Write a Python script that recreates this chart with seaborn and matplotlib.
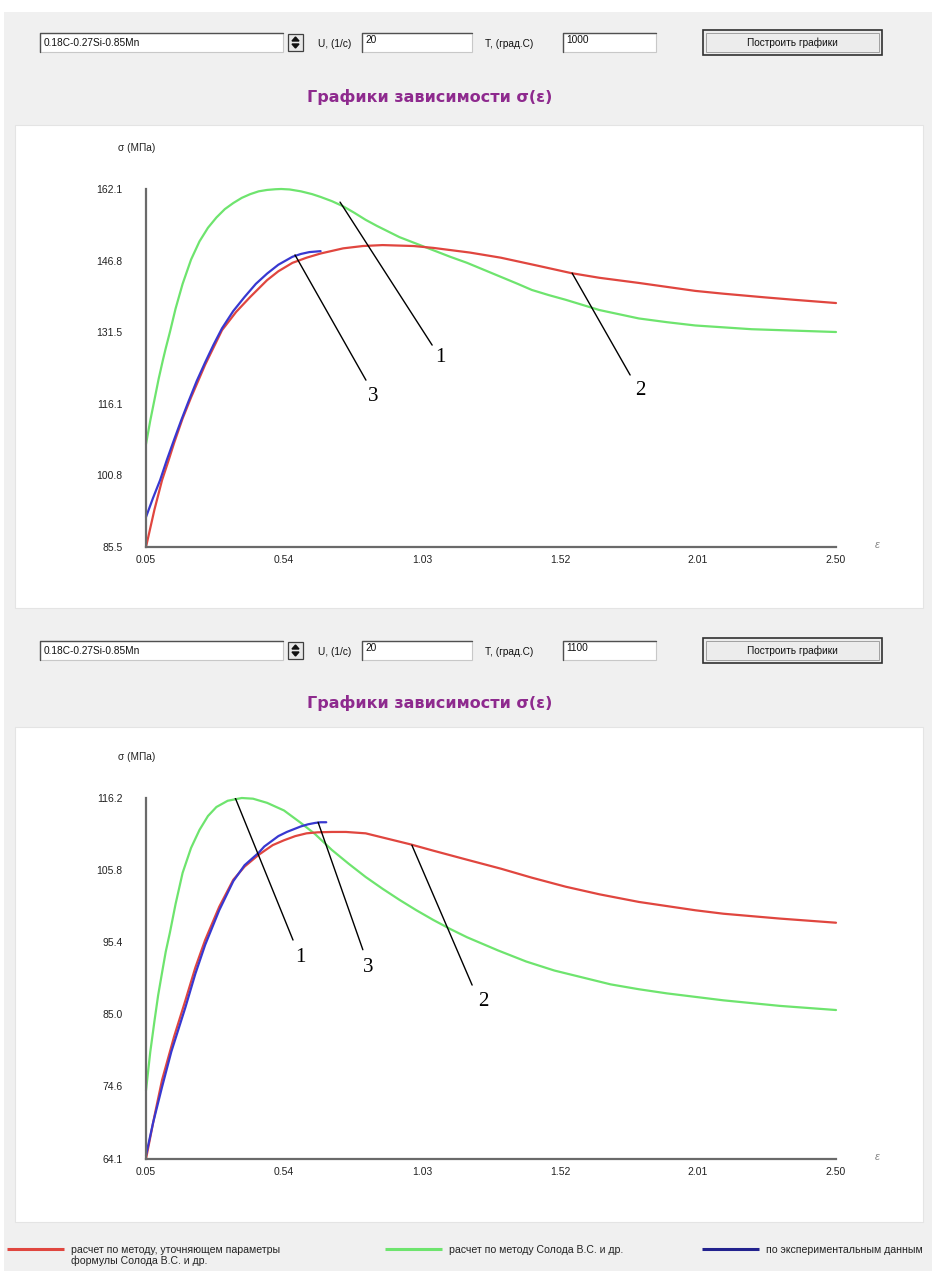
import matplotlib
matplotlib.use("Agg")
import matplotlib.pyplot as plt
from matplotlib.patches import Rectangle, Polygon
import seaborn as sns
import pandas as pd

# ---------------- data ----------------
xticks_vals = [0.05, 0.54, 1.03, 1.52, 2.01, 2.50]
xtick_labels = ["0.05", "0.54", "1.03", "1.52", "2.01", "2.50"]

top_yticks = [85.5, 100.8, 116.1, 131.5, 146.8, 162.1]
top_ytick_labels = ["85.5", "100.8", "116.1", "131.5", "146.8", "162.1"]
bot_yticks = [64.1, 74.6, 85.0, 95.4, 105.8, 116.2]
bot_ytick_labels = ["64.1", "74.6", "85.0", "95.4", "105.8", "116.2"]

# T = 1000 C
top_eps_red = [0.05, 0.08, 0.107, 0.13, 0.15, 0.18, 0.21, 0.26, 0.32, 0.37, 0.42, 0.48, 0.52, 0.57,
               0.62, 0.67, 0.75, 0.82, 0.89, 1.00, 1.07, 1.20, 1.31, 1.44, 1.56, 1.66, 1.80, 2.00,
               2.10, 2.25, 2.35, 2.50]
top_red = [85.5, 93.5, 99.8, 104.0, 107.8, 113.0, 117.5, 124.5, 131.9, 135.8, 139.0, 142.6, 144.5, 146.3,
           147.4, 148.3, 149.4, 149.9, 150.1, 149.9, 149.5, 148.5, 147.4, 145.7, 144.1, 143.1, 142.0, 140.3,
           139.7, 138.9, 138.4, 137.7]

top_eps_green = [0.05, 0.065, 0.08, 0.095, 0.11, 0.12, 0.135, 0.155, 0.18, 0.21, 0.24, 0.27, 0.30, 0.33,
                 0.36, 0.39, 0.42, 0.45, 0.48, 0.51, 0.53, 0.56, 0.60, 0.64, 0.67, 0.71, 0.75, 0.79,
                 0.83, 0.87, 0.91, 0.95, 1.01, 1.07, 1.13, 1.19, 1.25, 1.31, 1.37, 1.42, 1.48, 1.54,
                 1.60, 1.66, 1.73, 1.80, 1.90, 2.00, 2.10, 2.20, 2.35, 2.50]
top_green = [107.5, 112.5, 117.0, 121.5, 125.5, 128.0, 131.5, 136.5, 141.8, 147.0, 150.9, 153.8, 156.0, 157.8,
             159.1, 160.2, 161.0, 161.6, 161.9, 162.05, 162.1, 162.0, 161.6, 161.0, 160.4, 159.5, 158.4, 157.0,
             155.5, 154.2, 153.0, 151.8, 150.4, 149.0, 147.6, 146.3, 144.8, 143.3, 141.8, 140.5, 139.4, 138.4,
             137.3, 136.2, 135.3, 134.4, 133.6, 132.9, 132.5, 132.1, 131.8, 131.5]

top_eps_blue = [0.05, 0.075, 0.10, 0.125, 0.15, 0.175, 0.20, 0.23, 0.26, 0.29, 0.32, 0.36, 0.40, 0.44,
                0.48, 0.52, 0.57, 0.60, 0.63, 0.67]
top_blue = [91.9, 96.0, 99.8, 104.3, 108.5, 112.6, 116.5, 121.0, 125.0, 128.8, 132.3, 136.0, 139.0, 141.8,
            144.0, 145.9, 147.6, 148.2, 148.6, 148.8]

# T = 1100 C
bot_eps_red = [0.05, 0.08, 0.107, 0.15, 0.19, 0.225, 0.26, 0.31, 0.36, 0.40, 0.45, 0.50, 0.54, 0.58,
               0.62, 0.66, 0.71, 0.76, 0.83, 0.90, 0.99, 1.07, 1.18, 1.31, 1.42, 1.54, 1.66, 1.80,
               2.00, 2.10, 2.30, 2.50]
bot_red = [64.1, 70.3, 75.5, 81.8, 87.0, 91.7, 95.7, 100.5, 104.4, 106.3, 108.0, 109.4, 110.1, 110.7,
           111.1, 111.25, 111.3, 111.3, 111.1, 110.4, 109.5, 108.6, 107.4, 106.0, 104.7, 103.4, 102.3, 101.2,
           100.0, 99.5, 98.8, 98.2]

bot_eps_green = [0.05, 0.065, 0.08, 0.093, 0.107, 0.12, 0.135, 0.155, 0.18, 0.21, 0.24, 0.27, 0.30, 0.34,
                 0.39, 0.43, 0.48, 0.54, 0.60, 0.65, 0.71, 0.77, 0.83, 0.89, 0.95, 1.01, 1.07, 1.13,
                 1.19, 1.30, 1.40, 1.50, 1.60, 1.70, 1.80, 1.90, 2.00, 2.10, 2.30, 2.50]
bot_green = [74.0, 79.5, 84.0, 87.7, 91.0, 94.0, 96.8, 100.9, 105.4, 109.0, 111.6, 113.6, 114.9, 115.8,
             116.2, 116.1, 115.5, 114.4, 112.6, 111.0, 108.7, 106.7, 104.8, 103.1, 101.5, 100.0, 98.6, 97.3,
             96.1, 94.2, 92.6, 91.3, 90.3, 89.3, 88.6, 88.0, 87.5, 87.0, 86.2, 85.6]

bot_eps_blue = [0.05, 0.075, 0.107, 0.14, 0.19, 0.225, 0.26, 0.31, 0.36, 0.40, 0.45, 0.47, 0.50, 0.52,
                0.55, 0.575, 0.60, 0.625, 0.65, 0.67, 0.69]
bot_blue = [64.6, 69.3, 74.5, 79.6, 86.0, 90.8, 95.0, 100.0, 104.2, 106.5, 108.3, 109.2, 110.1, 110.7,
            111.3, 111.7, 112.1, 112.4, 112.6, 112.7, 112.7]

legend_labels = ["расчет по методу, уточняющем параметры\nформулы Солода В.С. и др.",
                 "расчет по методу Солода В.С. и др.",
                 "по экспериментальным данным"]
steel = "0.18C-0.27Si-0.85Mn"
rate = "20"
temps = ["1000", "1100"]

RED = "#e0463f"
GREEN = "#6ee46e"
BLUE = "#3838d0"

sns.set_theme(style="white")
plt.rcParams["font.family"] = ["Liberation Sans Narrow", "Liberation Sans", "DejaVu Sans"]

W, H = 932, 1271
fig = plt.figure(figsize=(W / 100, H / 100), dpi=100)
fig.patch.set_facecolor("white")

bg = fig.add_axes([0, 0, 1, 1], zorder=0)
bg.set_xlim(0, W)
bg.set_ylim(H, 0)
bg.axis("off")

bg.add_patch(Rectangle((4, 12), W - 4, H - 12, facecolor="#f0f0f0", edgecolor="none"))
bg.add_patch(Rectangle((15, 125), 908, 483, facecolor="white", edgecolor="#e4e4e4", lw=0.8))
bg.add_patch(Rectangle((15, 727), 908, 495, facecolor="white", edgecolor="#e4e4e4", lw=0.8))

UI = dict(fontsize=7.3, color="#111111", va="center")


def sunken(x, y, w, h):
    bg.add_patch(Rectangle((x, y), w, h, facecolor="white", edgecolor="#c8c8c8", lw=0.8))
    bg.plot([x, x, x + w], [y + h, y, y], color="#505050", lw=1.0)


def draw_row(y0, temp, title_y):
    sunken(40, y0, 243, 19)
    bg.text(44, y0 + 9.5, steel, **UI)
    bg.add_patch(Rectangle((288, y0 + 1), 15, 17, facecolor="#e8e8e8", edgecolor="#404040", lw=0.9))
    bg.add_patch(Polygon([[292, y0 + 8], [299, y0 + 8], [295.5, y0 + 4]], closed=True, color="#111"))
    bg.add_patch(Polygon([[292, y0 + 11], [299, y0 + 11], [295.5, y0 + 15]], closed=True, color="#111"))
    bg.text(318, y0 + 11, "U, (1/c)", **UI)
    sunken(362, y0, 110, 19)
    bg.text(365, y0 + 7, rate, **UI)
    bg.text(485, y0 + 11, "T, (град.С)", **UI)
    sunken(563, y0, 93, 19)
    bg.text(566, y0 + 7, temp, **UI)
    bg.add_patch(Rectangle((703, y0 - 3), 179, 25, facecolor="#ececec", edgecolor="#303030", lw=1.2))
    bg.add_patch(Rectangle((706, y0), 173, 19, facecolor="none", edgecolor="#a0a0a0", lw=0.7))
    bg.text(792, y0 + 9.5, "Построить графики", ha="center", fontsize=7.3, color="#111", va="center")
    bg.text(430, title_y, "Графики зависимости σ(ε)", ha="center", va="center",
            fontsize=11.5, fontweight="bold", color="#8e2a8e",
            family=["DejaVu Sans"])


draw_row(33, temps[0], 97)
draw_row(641, temps[1], 703)

# legend
leg_y = 1249
for x0, col, lab in [(7, RED, legend_labels[0]), (385, GREEN, legend_labels[1]), (702, "#22228e", legend_labels[2])]:
    bg.plot([x0, x0 + 57], [leg_y, leg_y], color=col, lw=2.2, solid_capstyle="butt")
    bg.text(x0 + 64, leg_y - 4, lab, fontsize=7.6, color="#222", va="top", ha="left", linespacing=1.1)


def make_axes(top_px, bot_px, yticks, ylabels):
    ax = fig.add_axes([146 / W, 1 - bot_px / H, 690 / W, (bot_px - top_px) / H], zorder=2)
    ax.set_facecolor("none")
    ax.set_xlim(0.05, 2.50)
    ax.set_ylim(yticks[0], yticks[-1])
    for s in ["top", "right"]:
        ax.spines[s].set_visible(False)
    for s in ["left", "bottom"]:
        ax.spines[s].set_color("#6a6a6a")
        ax.spines[s].set_linewidth(1.6)
    ax.set_xticks(xticks_vals)
    ax.set_xticklabels(xtick_labels)
    ax.set_yticks(yticks)
    ax.set_yticklabels(ylabels)
    ax.tick_params(axis="both", direction="inout", length=6, width=1.2, color="#333333",
                   labelsize=7.5, labelcolor="#222222")
    ax.tick_params(axis="y", pad=14)
    ax.tick_params(axis="x", pad=3)
    return ax


def plot_series(ax, xs, ys, color):
    df = pd.DataFrame({"eps": xs, "sigma": ys})
    sns.lineplot(data=df, x="eps", y="sigma", ax=ax, color=color, lw=1.6, clip_on=False)


ax1 = make_axes(189, 547, top_yticks, top_ytick_labels)
plot_series(ax1, top_eps_green, top_green, GREEN)
plot_series(ax1, top_eps_red, top_red, RED)
plot_series(ax1, top_eps_blue, top_blue, BLUE)
ax1.set_xlabel("")
ax1.set_ylabel("")

ax2 = make_axes(798, 1159, bot_yticks, bot_ytick_labels)
plot_series(ax2, bot_eps_green, bot_green, GREEN)
plot_series(ax2, bot_eps_red, bot_red, RED)
plot_series(ax2, bot_eps_blue, bot_blue, BLUE)
ax2.set_xlabel("")
ax2.set_ylabel("")

# axis captions
for ytop, yax in [(148, 545), (757, 1157)]:
    bg.text(118, ytop, "σ (МПа)", fontsize=7.3, color="#222", va="center", ha="left")
    bg.text(877, yax, "ε", fontsize=8, color="#888", va="center", ha="center", style="italic")

# leader lines with numbers
NUM = dict(fontsize=15, color="black", family=["Liberation Serif", "DejaVu Serif"], ha="center", va="center")
top_notes = [("1", (0.739, 159.3), (1.066, 128.7), (1.094, 126.0)),
             ("3", (0.579, 148.0), (0.831, 121.2), (0.856, 117.8)),
             ("2", (1.563, 144.1), (1.769, 122.3), (1.804, 118.9))]
bot_notes = [("1", (0.366, 116.3), (0.572, 95.7), (0.597, 93.2)),
             ("3", (0.661, 112.7), (0.820, 94.3), (0.838, 91.7)),
             ("2", (0.994, 109.4), (1.208, 89.2), (1.247, 86.9))]
for ax, notes in [(ax1, top_notes), (ax2, bot_notes)]:
    for lab, p0, p1, pt in notes:
        ax.plot([p0[0], p1[0]], [p0[1], p1[1]], color="black", lw=1.0)
        ax.text(pt[0], pt[1], lab, **NUM)

fig.savefig("out.png", dpi=100, facecolor=fig.get_facecolor())
